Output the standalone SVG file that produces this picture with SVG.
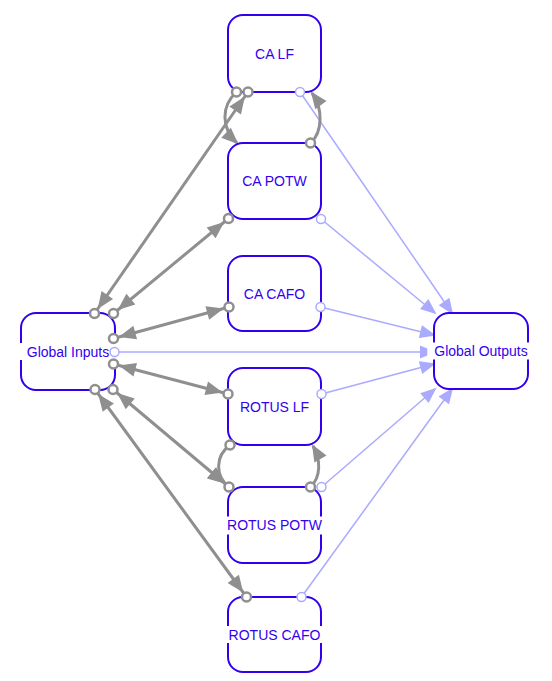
<svg xmlns="http://www.w3.org/2000/svg" width="552" height="681" viewBox="0 0 552 681">
<style>
  .node rect.box { fill: #ffffff; stroke: #3300ee; stroke-width: 2; }
  .node rect.bg { fill: #ffffff; stroke: none; }
  .node text { font-family: "Liberation Sans", Arial, sans-serif; font-size: 14px; fill: #3300f0; text-anchor: middle; }
  .port { fill: #ffffff; stroke: #8f8f8f; stroke-width: 2.5; }
  .lport { fill: #ffffff; stroke: #aaaaff; stroke-width: 1.5; }
  .e { fill: none; stroke: #8f8f8f; stroke-width: 3; }
  .l { fill: none; stroke: #aaaaff; stroke-width: 1.5; }
</style>
<defs>
  <marker id="ag" markerUnits="userSpaceOnUse" markerWidth="30" markerHeight="14" refX="22.5" refY="7" orient="auto-start-reverse" overflow="visible">
    <path d="M0,0 L17,7 L0,14 z" fill="#8f8f8f"/>
  </marker>
  <marker id="agt" markerUnits="userSpaceOnUse" markerWidth="30" markerHeight="14" refX="15" refY="7" orient="auto" overflow="visible">
    <path d="M0,0 L17,7 L0,14 z" fill="#8f8f8f"/>
  </marker>
  <marker id="al" markerUnits="userSpaceOnUse" markerWidth="30" markerHeight="14" refX="14" refY="6.5" orient="auto" overflow="visible">
    <path d="M0,0 L16,6.5 L0,13 z" fill="#aaaaff"/>
  </marker>
</defs>

<g id="connectors">
  <!-- light edges to Global Outputs -->
  <path class="l" d="M300,92 L452,313" marker-end="url(#al)"/>
  <path class="l" d="M321,219 L435,313" marker-end="url(#al)"/>
  <path class="l" d="M320.5,307 L434,335" marker-end="url(#al)"/>
  <path class="l" d="M114.5,352 L434,352" marker-end="url(#al)"/>
  <path class="l" d="M321.5,394 L434,364" marker-end="url(#al)"/>
  <path class="l" d="M321.5,487 L435,389" marker-end="url(#al)"/>
  <path class="l" d="M301.5,597 L452,389" marker-end="url(#al)"/>
  <!-- gray bidirectional edges -->
  <path class="e" d="M94.5,313.5 L248,92" marker-start="url(#ag)" marker-end="url(#ag)"/>
  <path class="e" d="M113.5,313.5 L228.5,218.5" marker-start="url(#ag)" marker-end="url(#ag)"/>
  <path class="e" d="M113.5,338.5 L229,307" marker-start="url(#ag)" marker-end="url(#ag)"/>
  <path class="e" d="M113.5,364 L228,394" marker-start="url(#ag)" marker-end="url(#ag)"/>
  <path class="e" d="M113,389.5 L229,487" marker-start="url(#ag)" marker-end="url(#ag)"/>
  <path class="e" d="M95,389.5 L246.5,597" marker-start="url(#ag)" marker-end="url(#ag)"/>
  <!-- curved edges -->
  <path class="e" d="M236.5,92 C221,106 221,128 237,143" marker-end="url(#agt)"/>
  <path class="e" d="M310.5,143 C323,132 323,108 312,93" marker-end="url(#agt)"/>
  <path class="e" d="M230,445 C215,456 215,476 229,487" marker-end="url(#ag)"/>
  <path class="e" d="M310.5,487 C321,477 321,460 313,446" marker-end="url(#agt)"/>
</g>

<g id="node-ca-lf" class="node">
  <rect class="box" x="228" y="15" width="93" height="77" rx="15"/>
  <rect class="bg" x="247.6" y="45.5" width="53.7" height="17"/>
  <text x="274.5" y="58.5">CA LF</text>
  <circle class="port" cx="236.5" cy="92" r="4.5"/>
  <circle class="port" cx="248" cy="92" r="4.5"/>
  <circle class="lport" cx="300" cy="92" r="4.5"/>
</g>

<g id="node-ca-potw" class="node">
  <rect class="box" x="228" y="143" width="93" height="76" rx="15"/>
  <rect class="bg" x="234.8" y="172.5" width="79.3" height="17"/>
  <text x="274.5" y="186">CA POTW</text>
  <circle class="port" cx="310.5" cy="143" r="4.5"/>
  <circle class="port" cx="228.5" cy="218.5" r="4.5"/>
  <circle class="lport" cx="321" cy="219" r="4.5"/>
</g>

<g id="node-ca-cafo" class="node">
  <rect class="box" x="228" y="256" width="93" height="75" rx="15"/>
  <rect class="bg" x="236.4" y="285" width="76.2" height="17"/>
  <text x="274.5" y="298.5">CA CAFO</text>
  <circle class="port" cx="229" cy="307" r="4.5"/>
  <circle class="lport" cx="320.5" cy="307" r="4.5"/>
</g>

<g id="node-rotus-lf" class="node">
  <rect class="box" x="228" y="368" width="93" height="77" rx="15"/>
  <rect class="bg" x="232.9" y="398" width="83.2" height="17"/>
  <text x="274.5" y="411.5">ROTUS LF</text>
  <circle class="port" cx="228" cy="394" r="4.5"/>
  <circle class="port" cx="230" cy="445" r="4.5"/>
  <circle class="lport" cx="321.5" cy="394" r="4.5"/>
</g>

<g id="node-rotus-potw" class="node">
  <rect class="box" x="228" y="487" width="93" height="76" rx="15"/>
  <rect class="bg" x="220" y="516.5" width="109" height="18"/>
  <text x="274.5" y="530">ROTUS POTW</text>
  <circle class="port" cx="229" cy="487" r="4.5"/>
  <circle class="port" cx="310.5" cy="487" r="4.5"/>
  <circle class="lport" cx="321.5" cy="487" r="4.5"/>
</g>

<g id="node-rotus-cafo" class="node">
  <rect class="box" x="228" y="597" width="93" height="75" rx="15"/>
  <rect class="bg" x="221.6" y="626" width="105.8" height="17"/>
  <text x="274.5" y="639.5">ROTUS CAFO</text>
  <circle class="port" cx="246.5" cy="597" r="4.5"/>
  <circle class="lport" cx="301.5" cy="597" r="4.5"/>
</g>

<g id="node-global-inputs" class="node">
  <rect class="box" x="21" y="313" width="94" height="77" rx="15"/>
  <rect class="bg" x="19.5" y="343" width="97" height="17"/>
  <text x="68" y="356.5">Global Inputs</text>
  <circle class="port" cx="94.5" cy="313.5" r="4.5"/>
  <circle class="port" cx="113.5" cy="313.5" r="4.5"/>
  <circle class="port" cx="113.5" cy="338.5" r="4.5"/>
  <circle class="lport" cx="114.5" cy="352" r="4.5"/>
  <circle class="port" cx="113.5" cy="364" r="4.5"/>
  <circle class="port" cx="95" cy="389.5" r="4.5"/>
  <circle class="port" cx="113" cy="389.5" r="4.5"/>
</g>

<g id="node-global-outputs" class="node">
  <rect class="box" x="434" y="313" width="94" height="76" rx="15"/>
  <rect class="bg" x="427.3" y="342.5" width="107.4" height="17"/>
  <text x="481" y="356">Global Outputs</text>
</g>
</svg>
